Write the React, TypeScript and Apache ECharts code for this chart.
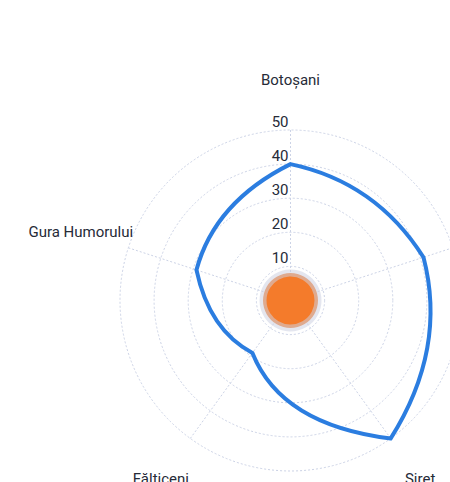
import React, { useEffect, useRef } from "react";
import * as echarts from "echarts";

// Indicator names (clockwise from the top) and their values
const towns = ["Botoșani", "Suceava", "Siret", "Fălticeni", "Gura Humorului"];
const values = [40, 41, 50, 19, 29];
// Radial ticks
const radiusTicks = [0, 10, 20, 30, 40, 50];
// The central marker sits on the origin
const centerPoint = [0];

export default function App() {
  const ref = useRef<HTMLDivElement>(null);

  useEffect(() => {
    if (!ref.current) return;
    const chart = echarts.init(ref.current, null, { renderer: "svg" });
    const step = 360 / towns.length;
    const rMax = radiusTicks[radiusTicks.length - 1];
    const bend = 0.65;
    const gridLine = { color: "#ccd3e6", width: 1, type: [2, 2] as any };

    chart.setOption({
      animation: false,
      backgroundColor: "#ffffff",
      polar: { center: [290.5, 300.5], radius: 170.5 },
      radiusAxis: {
        type: "value",
        min: radiusTicks[0],
        max: rMax,
        interval: radiusTicks[1] - radiusTicks[0],
        axisLine: { show: false },
        axisTick: { show: false },
        axisLabel: {
          show: true,
          formatter: (v: number) => (v === 0 ? "" : String(v)),
          fontFamily: "Roboto",
          fontSize: 15,
          color: "#262b38",
          align: "right",
          verticalAlign: "bottom",
          margin: 2,
          padding: [0, 0, 1, 0],
        },
        splitLine: { show: true, lineStyle: gridLine },
        z: 3,
      },
      angleAxis: {
        type: "value",
        min: 0,
        max: 360,
        interval: step,
        startAngle: 90,
        clockwise: true,
        axisLine: { show: false },
        axisTick: { show: false },
        axisLabel: { show: false },
        splitLine: { show: true, lineStyle: gridLine },
      },
      series: [
        {
          type: "custom",
          coordinateSystem: "polar",
          data: [0],
          z: 5,
          renderItem: (params: any, api: any) => {
            const n = towns.length;
            const pt = (r: number, a: number) => api.coord([r, a]);
            const pts = values.map((v, i) => pt(v, i * step));
            let d = `M${pts[0][0]} ${pts[0][1]}`;
            for (let i = 0; i < n; i++) {
              const j = (i + 1) % n;
              const p0 = pts[i];
              const p2 = pts[j];
              const m = pt((values[i] + values[j]) / 2, (i + 0.5) * step);
              const cm = [(p0[0] + p2[0]) / 2, (p0[1] + p2[1]) / 2];
              const c = [cm[0] + 2 * bend * (m[0] - cm[0]), cm[1] + 2 * bend * (m[1] - cm[1])];
              d += ` Q${c[0]} ${c[1]} ${p2[0]} ${p2[1]}`;
            }
            d += " Z";
            const o = pt(0, 0);
            const labelGap = 50;
            const texts = towns.map((t, i) => {
              const p = pt(rMax, i * step);
              const dx = p[0] - o[0];
              const dy = p[1] - o[1];
              const L = Math.hypot(dx, dy);
              const k = (L + labelGap) / L;
              return {
                type: "text",
                x: o[0] + dx * k,
                y: o[1] + dy * k,
                style: {
                  text: t,
                  align: "center",
                  verticalAlign: "middle",
                  font: "15px Roboto",
                  fill: "#262b38",
                },
              };
            });
            return {
              type: "group",
              children: [
                {
                  type: "path",
                  shape: { pathData: d },
                  style: { fill: "none", stroke: "#2b7de0", lineWidth: 4, lineJoin: "miter" },
                },
                ...texts,
              ],
            };
          },
        },
        {
          type: "scatter",
          coordinateSystem: "polar",
          data: centerPoint.map((r) => [r, 0]),
          symbolSize: 55,
          z: 4,
          itemStyle: {
            color: "#f47b2b",
            borderColor: "rgba(205,210,226,0.55)",
            borderWidth: 7,
            opacity: 1,
          },
        },
      ],
    });

    return () => chart.dispose();
  }, []);

  return (
    <div
      ref={ref}
      style={{ position: "fixed", left: 0, top: 0, width: 450, height: 482, background: "#fff" }}
    />
  );
}
